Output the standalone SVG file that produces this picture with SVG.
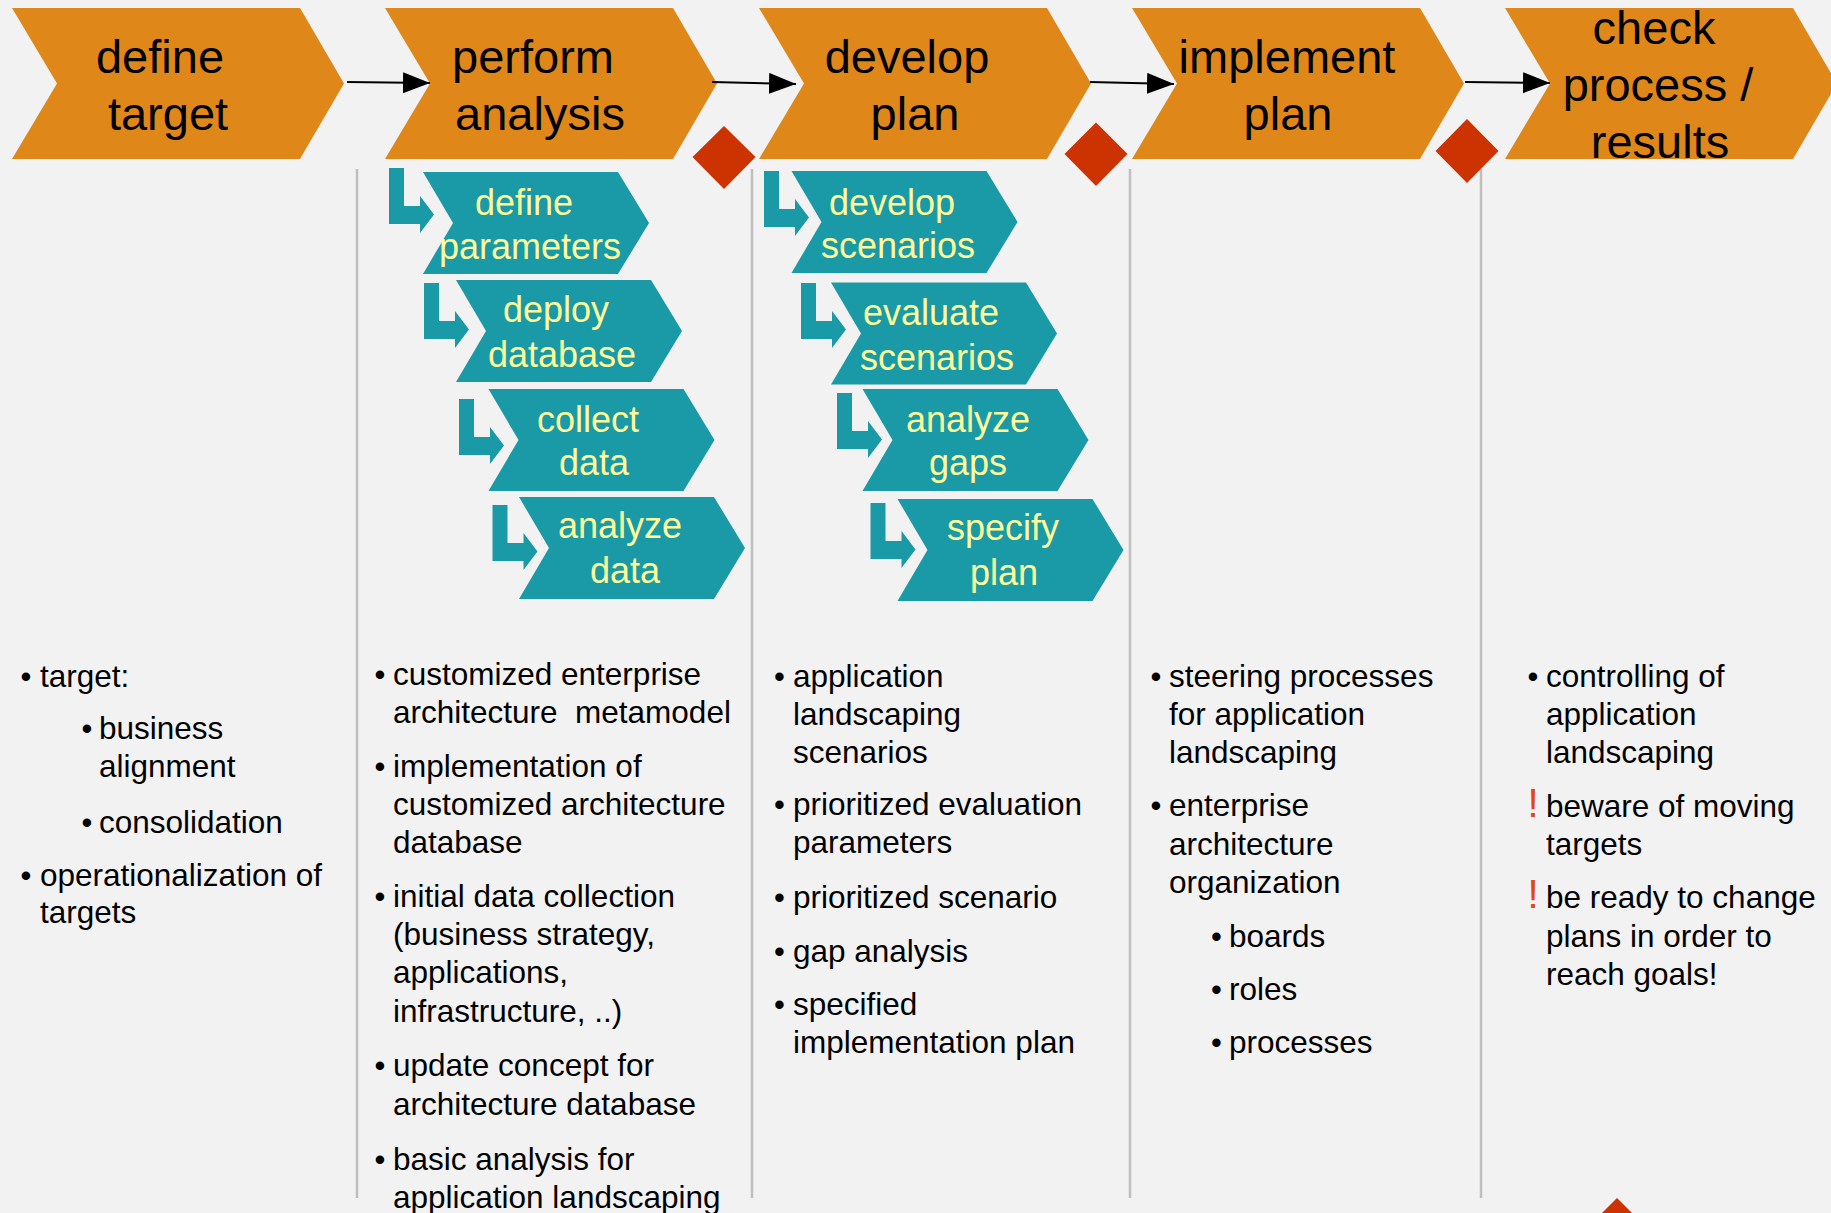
<svg xmlns="http://www.w3.org/2000/svg" xmlns:xlink="http://www.w3.org/1999/xlink" width="1831" height="1213" viewBox="0 0 1831 1213">
<style>
.main{fill:#DF8719}
.sub{fill:#1A9AA6}
.dia{fill:#CC3300}
.sep{stroke:#BFBFBF;stroke-width:2.5;fill:none}
.conn{stroke:#000;stroke-width:2;fill:none}
text{font-family:"Liberation Sans",Arial,sans-serif}
.tm{font-size:47px;fill:#000;text-anchor:middle}
.ts{font-size:36px;fill:#FFFF99;text-anchor:middle}
.tb{font-size:31.5px;fill:#000}
.bu{font-size:31px;fill:#000;text-anchor:middle}
.ex{font-size:40px;fill:#DD4814;text-anchor:middle}
</style>
<defs>
<marker id="ah" markerUnits="userSpaceOnUse" markerWidth="28" markerHeight="22" refX="27" refY="10.5" orient="auto">
<path d="M0,0 L27,10.5 L0,21 Z" fill="#000"/>
</marker>
<polygon id="bent" class="sub" points="0,0 15,0 15,38 31,38 31,28 45,46.5 31,65 31,56 0,56"/>
<polygon id="mchev" class="main" points="0,8 288,8 332,83.5 288,159 0,159 45,83.5"/>
<polygon id="schev" class="sub" points="0,0 195,0 226,51 195,102 0,102 30,51"/>
</defs>
<rect x="0" y="0" width="1831" height="1213" fill="#F2F2F2"/>

<g id="separators">
<line class="sep" x1="357" y1="169" x2="357" y2="1198"/>
<line class="sep" x1="752" y1="169" x2="752" y2="1198"/>
<line class="sep" x1="1130" y1="169" x2="1130" y2="1198"/>
<line class="sep" x1="1481" y1="169" x2="1481" y2="1198"/>
</g>

<g id="step-define-target">
<use href="#mchev" x="12"/>
<text class="tm"><tspan x="160" y="73">define</tspan><tspan x="168" y="130">target</tspan></text>
</g>
<g id="step-perform-analysis">
<use href="#mchev" x="385"/>
<text class="tm"><tspan x="533" y="73">perform</tspan><tspan x="540" y="130">analysis</tspan></text>
</g>
<g id="step-develop-plan">
<use href="#mchev" x="759"/>
<text class="tm"><tspan x="907" y="73">develop</tspan><tspan x="915" y="130">plan</tspan></text>
</g>
<g id="step-implement-plan">
<use href="#mchev" x="1132"/>
<text class="tm"><tspan x="1287" y="73">implement</tspan><tspan x="1288" y="130">plan</tspan></text>
</g>
<g id="step-check-process">
<use href="#mchev" x="1505"/>
<text class="tm"><tspan x="1654" y="44">check</tspan><tspan x="1658" y="101">process /</tspan><tspan x="1660" y="158">results</tspan></text>
</g>

<g id="connectors">
<line class="conn" x1="347" y1="82" x2="430" y2="83" marker-end="url(#ah)"/>
<line class="conn" x1="712" y1="82" x2="796" y2="84" marker-end="url(#ah)"/>
<line class="conn" x1="1090" y1="82" x2="1174" y2="84" marker-end="url(#ah)"/>
<line class="conn" x1="1465" y1="82" x2="1550" y2="83" marker-end="url(#ah)"/>
</g>

<g id="milestones">
<polygon class="dia" points="724,126 755.5,157 724,189 692.5,157"/>
<polygon class="dia" points="1096,122.5 1127.5,154 1096,186 1064.5,154"/>
<polygon class="dia" points="1467,119 1498.5,151 1467,183 1435.5,151"/>
<polygon class="dia" points="1617,1198 1649,1230 1617,1262 1585,1230"/>
</g>

<g id="sub-define-parameters">
<use href="#bent" x="389" y="168"/>
<use href="#schev" x="423" y="172"/>
<text class="ts"><tspan x="524" y="215">define</tspan><tspan x="530" y="259">parameters</tspan></text>
</g>
<g id="sub-deploy-database">
<use href="#bent" x="424" y="283"/>
<use href="#schev" x="456" y="280"/>
<text class="ts"><tspan x="556" y="322">deploy</tspan><tspan x="562" y="367">database</tspan></text>
</g>
<g id="sub-collect-data">
<use href="#bent" x="459" y="399"/>
<use href="#schev" x="488.5" y="389"/>
<text class="ts"><tspan x="588" y="432">collect</tspan><tspan x="594" y="475">data</tspan></text>
</g>
<g id="sub-analyze-data">
<use href="#bent" x="492.5" y="505"/>
<use href="#schev" x="519" y="497"/>
<text class="ts"><tspan x="620" y="538">analyze</tspan><tspan x="625" y="583">data</tspan></text>
</g>
<g id="sub-develop-scenarios">
<use href="#bent" x="764" y="171"/>
<use href="#schev" x="791.5" y="171"/>
<text class="ts"><tspan x="892" y="215">develop</tspan><tspan x="898" y="258">scenarios</tspan></text>
</g>
<g id="sub-evaluate-scenarios">
<use href="#bent" x="801" y="283"/>
<use href="#schev" x="831" y="282.5"/>
<text class="ts"><tspan x="931" y="325">evaluate</tspan><tspan x="937" y="370">scenarios</tspan></text>
</g>
<g id="sub-analyze-gaps">
<use href="#bent" x="837" y="393"/>
<use href="#schev" x="862.5" y="389"/>
<text class="ts"><tspan x="968" y="432">analyze</tspan><tspan x="968" y="475">gaps</tspan></text>
</g>
<g id="sub-specify-plan">
<use href="#bent" x="870.5" y="503"/>
<use href="#schev" x="897.5" y="499"/>
<text class="ts"><tspan x="1003" y="540">specify</tspan><tspan x="1004" y="585">plan</tspan></text>
</g>

<g id="notes-define-target">
<text class="bu" x="26" y="687">•</text>
<text class="tb" x="40" y="687">target:</text>
<text class="bu" x="87" y="739">•</text>
<text class="tb"><tspan x="99" y="739">business</tspan><tspan x="99" y="777">alignment</tspan></text>
<text class="bu" x="87" y="833">•</text>
<text class="tb" x="99" y="833">consolidation</text>
<text class="bu" x="26" y="886">•</text>
<text class="tb"><tspan x="40" y="886">operationalization of</tspan><tspan x="40" y="923">targets</tspan></text>
</g>

<g id="notes-perform-analysis">
<text class="bu" x="380" y="685">•</text>
<text class="tb" xml:space="preserve"><tspan x="393" y="685">customized enterprise</tspan><tspan x="393" y="723">architecture  metamodel</tspan></text>
<text class="bu" x="380" y="777">•</text>
<text class="tb"><tspan x="393" y="777">implementation of</tspan><tspan x="393" y="815">customized architecture</tspan><tspan x="393" y="853">database</tspan></text>
<text class="bu" x="380" y="907">•</text>
<text class="tb"><tspan x="393" y="907">initial data collection</tspan><tspan x="393" y="945">(business strategy,</tspan><tspan x="393" y="983">applications,</tspan><tspan x="393" y="1022">infrastructure, ..)</tspan></text>
<text class="bu" x="380" y="1076">•</text>
<text class="tb"><tspan x="393" y="1076">update concept for</tspan><tspan x="393" y="1115">architecture database</tspan></text>
<text class="bu" x="380" y="1170">•</text>
<text class="tb"><tspan x="393" y="1170">basic analysis for</tspan><tspan x="393" y="1208">application landscaping</tspan></text>
</g>

<g id="notes-develop-plan">
<text class="bu" x="779.5" y="687">•</text>
<text class="tb"><tspan x="793" y="687">application</tspan><tspan x="793" y="725">landscaping</tspan><tspan x="793" y="763">scenarios</tspan></text>
<text class="bu" x="779.5" y="815">•</text>
<text class="tb"><tspan x="793" y="815">prioritized evaluation</tspan><tspan x="793" y="853">parameters</tspan></text>
<text class="bu" x="779.5" y="908">•</text>
<text class="tb" x="793" y="908">prioritized scenario</text>
<text class="bu" x="779.5" y="962">•</text>
<text class="tb" x="793" y="962">gap analysis</text>
<text class="bu" x="779.5" y="1015">•</text>
<text class="tb"><tspan x="793" y="1015">specified</tspan><tspan x="793" y="1053">implementation plan</tspan></text>
</g>

<g id="notes-implement-plan">
<text class="bu" x="1156" y="687">•</text>
<text class="tb"><tspan x="1169" y="687">steering processes</tspan><tspan x="1169" y="725">for application</tspan><tspan x="1169" y="763">landscaping</tspan></text>
<text class="bu" x="1156" y="816">•</text>
<text class="tb"><tspan x="1169" y="816">enterprise</tspan><tspan x="1169" y="855">architecture</tspan><tspan x="1169" y="893">organization</tspan></text>
<text class="bu" x="1216.5" y="947">•</text>
<text class="tb" x="1229" y="947">boards</text>
<text class="bu" x="1216.5" y="1000">•</text>
<text class="tb" x="1229" y="1000">roles</text>
<text class="bu" x="1216.5" y="1053">•</text>
<text class="tb" x="1229" y="1053">processes</text>
</g>

<g id="notes-check-process">
<text class="bu" x="1533" y="687">•</text>
<text class="tb"><tspan x="1546" y="687">controlling of</tspan><tspan x="1546" y="725">application</tspan><tspan x="1546" y="763">landscaping</tspan></text>
<text class="ex" x="1533" y="817">!</text>
<text class="tb"><tspan x="1546" y="817">beware of moving</tspan><tspan x="1546" y="855">targets</tspan></text>
<text class="ex" x="1533" y="908">!</text>
<text class="tb"><tspan x="1546" y="908">be ready to change</tspan><tspan x="1546" y="947">plans in order to</tspan><tspan x="1546" y="985">reach goals!</tspan></text>
</g>
</svg>
